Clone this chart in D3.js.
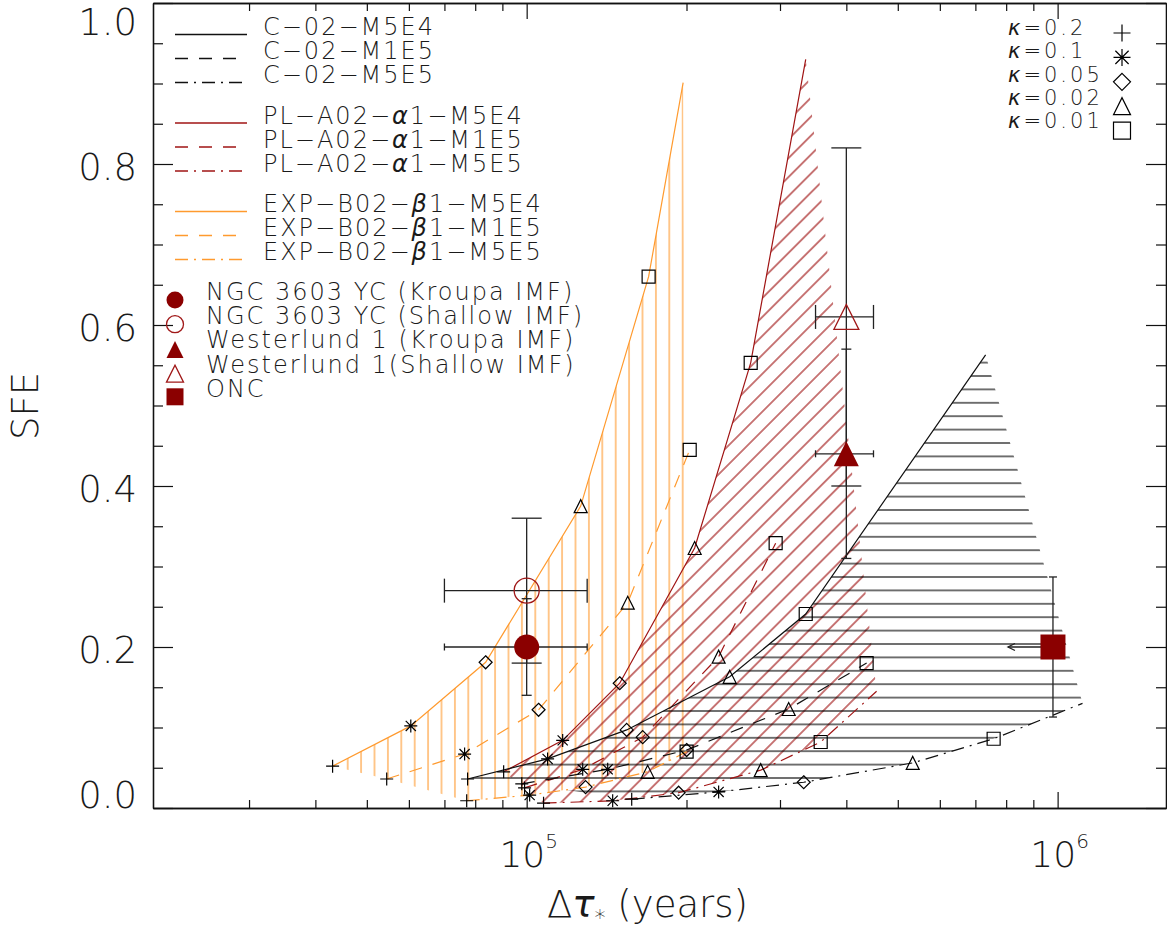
<!DOCTYPE html>
<html>
<head>
<meta charset="utf-8">
<script src="https://cdn.jsdelivr.net/npm/d3@7"></script>
<style>
  html, body { margin: 0; padding: 0; background: #fff; }
  svg { display: block; }
  text { font-family: "DejaVu Sans", sans-serif; font-weight: 200; fill: #1a1a1a; }
</style>
</head>
<body>
<svg id="chart" width="1167" height="933"></svg>
<script>
// ---- kappa values along every model track (one marker per value) ----
const kappaLabels = ["0.2", "0.1", "0.05", "0.02", "0.01"];
const kappaSymbols = ["plus", "asterisk", "diamond", "triangle", "square"];

// ---- model tracks: star-formation duration (yr) and SFE, ordered by kappa ----
// exponential (EXP-B02-beta1)
const expM5E4T = [43100, 60500, 83700, 126400, 169700];
const expM5E4S = [0.052, 0.102, 0.181, 0.375, 0.660];
const expM5E4Tip = [197100, 0.901];
const expM1E5T = [54500, 76400, 105300, 155000, 202800];
const expM1E5S = [0.036, 0.067, 0.122, 0.255, 0.445];
const expM5E5T = [77100, 101300, 129100, 169000, 200100];
const expM5E5S = [0.009, 0.016, 0.026, 0.045, 0.070];

// power law (PL-A02-alpha1)
const plM5E4T = [90500, 116900, 149700, 207200, 264200];
const plM5E4S = [0.045, 0.084, 0.155, 0.323, 0.553];
const plM5E4Tip = [335400, 0.930];
const plM1E5T = [99100, 127500, 165400, 229900, 294400];
const plM1E5S = [0.025, 0.048, 0.088, 0.188, 0.329];
const plM5E5T = [107600, 145200, 193300, 275900, 357900];
const plM5E5S = [0.006, 0.009, 0.019, 0.047, 0.082];
const plM5E5Tip = [456100, 0.145];

// constant (C-02)
const cM5E4T = [77400, 109500, 154300, 241200, 335400];
const cM5E4S = [0.036, 0.061, 0.097, 0.163, 0.241];
const cM5E4Tip = [731800, 0.563];
const cM1E5T = [97900, 142100, 200100, 311500, 436800];
const cM1E5S = [0.030, 0.048, 0.072, 0.123, 0.180];
const cM5E5T = [157700, 229900, 332500, 533400, 757700];
const cM5E5S = [0.011, 0.020, 0.032, 0.056, 0.086];
const cM5E5Tip = [1114000, 0.130];

// ---- legend labels ----
const cLabels = ["C-02-M5E4", "C-02-M1E5", "C-02-M5E5"];
const plLabels = ["PL-A02-α1-M5E4", "PL-A02-α1-M1E5", "PL-A02-α1-M5E5"];
const expLabels = ["EXP-B02-β1-M5E4", "EXP-B02-β1-M1E5", "EXP-B02-β1-M5E5"];

// ---- observed clusters ----
const obsNames = ["NGC 3603 YC (Kroupa IMF)", "NGC 3603 YC (Shallow IMF)",
                  "Westerlund 1 (Kroupa IMF)", "Westerlund 1(Shallow IMF)", "ONC"];
const obsT     = [1e5, 1e5, 4e5, 4e5, 9.8e5];
const obsSfe   = [0.20, 0.27, 0.44, 0.61, 0.20];
const obsTLo   = [7e4, 7e4, 3.5e5, 3.5e5, null];
const obsTHi   = [1.3e5, 1.3e5, 4.5e5, 4.5e5, null];
const obsSfeLo = [0.14, 0.18, 0.31, 0.40, 0.113];
const obsSfeHi = [0.26, 0.36, 0.57, 0.82, 0.287];
const obsTUpperLimit = [false, false, false, false, true];

// ---- axis ticks ----
const yMajor = [0, 0.2, 0.4, 0.6, 0.8, 1.0];
const yTickLabels = ["0.0", "0.2", "0.4", "0.6", "0.8", "1.0"];
const xMajor = [1e5, 1e6];
const xMajorExp = ["5", "6"];

// ---------------------------------------------------------------------------
const svg = d3.select("#chart");
const x = d3.scaleLog().domain([1.978e4, 1.6e6]).range([153, 1166]);
const y = d3.scaleLinear().domain([0, 1]).range([808, 3]);

const ORANGE = "#ff9a2e", RED = "#a01414", DARKRED = "#8b0000", INK = "#111";
const HATCH = 13.4;
const DASH = "13,11", DASHDOT = "13,6,2,6";

const zip = (t, s) => t.map((v, i) => [v, s[i]]);

const families = [
  { name: "exp", color: ORANGE, hatch: "hatchV",
    tracks: [
      { pts: zip(expM5E4T, expM5E4S), tip: expM5E4Tip, dash: null },
      { pts: zip(expM1E5T, expM1E5S), tip: null, dash: DASH },
      { pts: zip(expM5E5T, expM5E5S), tip: null, dash: DASHDOT } ] },
  { name: "pl", color: RED, hatch: "hatchD",
    tracks: [
      { pts: zip(plM5E4T, plM5E4S), tip: plM5E4Tip, dash: null },
      { pts: zip(plM1E5T, plM1E5S), tip: null, dash: DASH },
      { pts: zip(plM5E5T, plM5E5S), tip: plM5E5Tip, dash: DASHDOT } ] },
  { name: "c", color: INK, hatch: "hatchH",
    tracks: [
      { pts: zip(cM5E4T, cM5E4S), tip: cM5E4Tip, dash: null },
      { pts: zip(cM1E5T, cM1E5S), tip: null, dash: DASH },
      { pts: zip(cM5E5T, cM5E5S), tip: cM5E5Tip, dash: DASHDOT } ] }
];

// ---- hatch patterns ----
const defs = svg.append("defs");
function linePattern(id, color, width, opts) {
  const p = defs.append("pattern").attr("id", id)
    .attr("patternUnits", "userSpaceOnUse")
    .attr("width", HATCH).attr("height", HATCH)
    .attr("x", opts.x || 0).attr("y", opts.y || 0);
  if (opts.rotate) p.attr("patternTransform", `rotate(${opts.rotate})`);
  const ln = p.append("line");
  if (opts.horizontal) {
    ln.attr("x1", -1).attr("x2", HATCH + 1).attr("y1", HATCH / 2).attr("y2", HATCH / 2);
  } else {
    ln.attr("y1", -1).attr("y2", HATCH + 1).attr("x1", HATCH / 2).attr("x2", HATCH / 2);
  }
  ln.attr("stroke", color).attr("stroke-width", width);
}
linePattern("hatchV", ORANGE, 1.1, { x: 347.7 - HATCH / 2 });
linePattern("hatchH", "#000", 1.1, { y: 376 - HATCH / 2, horizontal: true });
linePattern("hatchD", RED, 1.15, { x: 6.06, rotate: 45 });

defs.append("clipPath").attr("id", "plotClip")
  .append("rect").attr("x", 153).attr("y", 3).attr("width", 1013).attr("height", 805);

const plot = svg.append("g").attr("clip-path", "url(#plotClip)");
const toPx = d => [x(d[0]), y(d[1])];

// envelope of each family: low-mass track, its tip, high-mass track back, mid-mass start
families.forEach(f => {
  const [lo, mid, hi] = f.tracks;
  const ring = [...lo.pts];
  if (lo.tip) ring.push(lo.tip);
  if (hi.tip) ring.push(hi.tip);
  ring.push(...[...hi.pts].reverse());
  ring.push(mid.pts[0]);
  plot.append("path")
    .attr("d", d3.line()(ring.map(toPx)) + "Z")
    .attr("fill", `url(#${f.hatch})`)
    .attr("stroke", "none");
});

// track lines
const lineGen = d3.line().x(d => x(d[0])).y(d => y(d[1]));
families.forEach(f => {
  f.tracks.forEach(t => {
    const pts = t.tip ? [...t.pts, t.tip] : t.pts;
    plot.append("path").attr("d", lineGen(pts))
      .attr("fill", "none").attr("stroke", f.color).attr("stroke-width", 1.2)
      .attr("stroke-dasharray", t.dash);
  });
});

// kappa markers
function symbolPath(type, s) {
  const d = s * 0.78;
  switch (type) {
    case "plus": return `M${-s},0H${s}M0,${-s}V${s}`;
    case "asterisk": return `M${-s},0H${s}M0,${-s}V${s}M${-d},${-d}L${d},${d}M${-d},${d}L${d},${-d}`;
    case "diamond": return `M0,${-s}L${s},0L0,${s}L${-s},0Z`;
    case "triangle": return `M${-s},${s}L0,${-s}L${s},${s}Z`;
    case "square": return `M${-s},${-s}H${s}V${s}H${-s}Z`;
  }
}
families.forEach(f => {
  f.tracks.forEach(t => {
    t.pts.forEach((p, i) => {
      plot.append("path")
        .attr("transform", `translate(${x(p[0])},${y(p[1])})`)
        .attr("d", symbolPath(kappaSymbols[i], 6.5))
        .attr("fill", "none").attr("stroke", "#000").attr("stroke-width", 1.2);
    });
  });
});

// ---- observed clusters with error bars ----
const obsShape = ["circle", "circle", "triangle", "triangle", "square"];
const obsFilled = [true, false, true, false, true];
const capV = [5, 15, 5, 15, 4];      // half-width of caps on the SFE bars
const capH = [3.5, 12, 3.5, 12, 0];  // half-height of caps on the duration bars
const eb = svg.append("g").attr("stroke", "#222").attr("stroke-width", 1.3).attr("fill", "none");
obsT.forEach((t, i) => {
  const cx = x(t), cy = y(obsSfe[i]);
  const y0 = y(obsSfeLo[i]), y1 = y(obsSfeHi[i]);
  eb.append("line").attr("x1", cx).attr("x2", cx).attr("y1", y0).attr("y2", y1);
  [y0, y1].forEach(yy => eb.append("line")
    .attr("x1", cx - capV[i]).attr("x2", cx + capV[i]).attr("y1", yy).attr("y2", yy));
  if (obsTLo[i] != null) {
    const x0 = x(obsTLo[i]), x1 = x(obsTHi[i]);
    eb.append("line").attr("x1", x0).attr("x2", x1).attr("y1", cy).attr("y2", cy);
    [x0, x1].forEach(xx => eb.append("line")
      .attr("x1", xx).attr("x2", xx).attr("y1", cy - capH[i]).attr("y2", cy + capH[i]));
  }
  if (obsTUpperLimit[i]) {
    const ax = cx - 45;
    eb.append("line").attr("x1", cx).attr("x2", ax).attr("y1", cy).attr("y2", cy);
    eb.append("path").attr("d", `M${ax + 7},${cy - 3.5}L${ax},${cy}L${ax + 7},${cy + 3.5}`);
  }
});

function drawObsMarker(g, shape, filled, cx, cy, s) {
  let el;
  if (shape === "circle") {
    el = g.append("circle").attr("cx", cx).attr("cy", cy).attr("r", s);
  } else {
    el = g.append("path").attr("transform", `translate(${cx},${cy})`)
      .attr("d", symbolPath(shape, s));
  }
  if (filled) el.attr("fill", DARKRED).attr("stroke", "none");
  else el.attr("fill", "none").attr("stroke", "#a01818").attr("stroke-width", 1.3);
}
const om = svg.append("g");
obsT.forEach((t, i) => drawObsMarker(om, obsShape[i], obsFilled[i], x(t), y(obsSfe[i]), 12.5));

// ---- axes (ticks point inward on all four sides) ----
const xMinor = [];
[1e4, 1e5].forEach(dec => { for (let k = 2; k <= 9; k++) { const v = k * dec; if (v >= 3e4 && v <= 1.6e6) xMinor.push(v); } });
const yMinor = d3.range(0, 21).map(i => i * 0.05).filter(v => Math.abs(v * 5 - Math.round(v * 5)) > 1e-6);

function styleAxis(g) {
  g.selectAll("path.domain").attr("stroke", "#111").attr("stroke-width", 1.3);
  g.selectAll(".tick line").attr("stroke", "#111").attr("stroke-width", 1.2);
  g.selectAll(".tick text").remove();
}
svg.append("g").attr("transform", "translate(0,808)")
  .call(d3.axisBottom(x).tickValues(xMajor).tickSize(-16).tickSizeOuter(0).tickFormat("")).call(styleAxis);
svg.append("g").attr("transform", "translate(0,808)")
  .call(d3.axisBottom(x).tickValues(xMinor).tickSize(-8).tickSizeOuter(0).tickFormat("")).call(styleAxis);
svg.append("g").attr("transform", "translate(0,3)")
  .call(d3.axisTop(x).tickValues(xMajor).tickSize(-16).tickSizeOuter(0).tickFormat("")).call(styleAxis);
svg.append("g").attr("transform", "translate(0,3)")
  .call(d3.axisTop(x).tickValues(xMinor).tickSize(-8).tickSizeOuter(0).tickFormat("")).call(styleAxis);
svg.append("g").attr("transform", "translate(153,0)")
  .call(d3.axisLeft(y).tickValues(yMajor).tickSize(-20).tickSizeOuter(0).tickFormat("")).call(styleAxis);
svg.append("g").attr("transform", "translate(153,0)")
  .call(d3.axisLeft(y).tickValues(yMinor).tickSize(-10).tickSizeOuter(0).tickFormat("")).call(styleAxis);
svg.append("g").attr("transform", "translate(1166,0)")
  .call(d3.axisRight(y).tickValues(yMajor).tickSize(-20).tickSizeOuter(0).tickFormat("")).call(styleAxis);
svg.append("g").attr("transform", "translate(1166,0)")
  .call(d3.axisRight(y).tickValues(yMinor).tickSize(-10).tickSizeOuter(0).tickFormat("")).call(styleAxis);

// tick labels (kept inside the canvas at the top end)
yMajor.forEach((v, i) => {
  const base = Math.min(808, Math.max(34.5, y(v) + 16));
  svg.append("text").attr("x", 137).attr("y", base).attr("text-anchor", "end")
    .attr("font-size", 37).text(yTickLabels[i]);
});
xMajor.forEach((v, i) => {
  const t = svg.append("text").attr("x", x(v) + 2).attr("y", 867)
    .attr("text-anchor", "middle").attr("font-size", 36);
  t.append("tspan").text("10");
  t.append("tspan").attr("font-size", 20).attr("dy", -19).text(xMajorExp[i]);
});

// axis titles
const xt = svg.append("text").attr("x", 547).attr("y", 917).attr("font-size", 37);
xt.append("tspan").text("Δ");
xt.append("tspan").attr("font-style", "italic").text("τ");
xt.append("tspan").attr("font-size", 22).attr("dy", 8).text("*");
xt.append("tspan").attr("dy", -8).text(" (years)");
svg.append("text").attr("transform", "translate(38,406) rotate(-90)")
  .attr("text-anchor", "middle").attr("font-size", 37).text("SFE");

// ---- legend: model tracks ----
const legend = svg.append("g");
const groups = [[cLabels, INK], [plLabels, RED], [expLabels, ORANGE]];
const dashes = [null, DASH, DASHDOT];
groups.forEach(([labels, color], g) => {
  labels.forEach((lab, i) => {
    const by = 35 + g * 88.5 + i * 24;
    legend.append("line").attr("x1", 175).attr("x2", 247).attr("y1", by - 0.5).attr("y2", by - 0.5)
      .attr("stroke", color).attr("stroke-width", 1.6).attr("stroke-dasharray", dashes[i]);
    const t = legend.append("text").attr("x", 263).attr("y", by)
      .attr("font-size", 24).attr("letter-spacing", 2);
    lab.split(/([αβ])/).forEach(part => {
      if (!part) return;
      const shown = part.replace(/-/g, "−");
      const sp = t.append("tspan").text(shown);
      if (part === "α" || part === "β") sp.attr("font-style", "italic").attr("font-weight", 400);
    });
  });
});

// ---- legend: observed clusters ----
obsNames.forEach((name, i) => {
  const by = 300 + i * 24.2;
  const my = obsShape[i] === "triangle" ? by + 1 : by;
  drawObsMarker(legend, obsShape[i], obsFilled[i], 175, my, 8.5);
  legend.append("text").attr("x", 206).attr("y", by)
    .attr("font-size", 24).attr("letter-spacing", 2).text(name);
});

// ---- legend: kappa symbols ----
kappaLabels.forEach((k, i) => {
  const by = 35 + i * 23.3;
  const t = legend.append("text").attr("x", 1008).attr("y", by)
    .attr("font-size", 21).attr("letter-spacing", 3);
  t.append("tspan").attr("font-style", "italic").text("κ");
  t.append("tspan").text("=" + k);
  legend.append("path").attr("transform", `translate(1122,${33 + i * 24.4})`)
    .attr("d", symbolPath(kappaSymbols[i], 8.5))
    .attr("fill", "none").attr("stroke", "#000").attr("stroke-width", 1.2);
});
</script>
</body>
</html>
